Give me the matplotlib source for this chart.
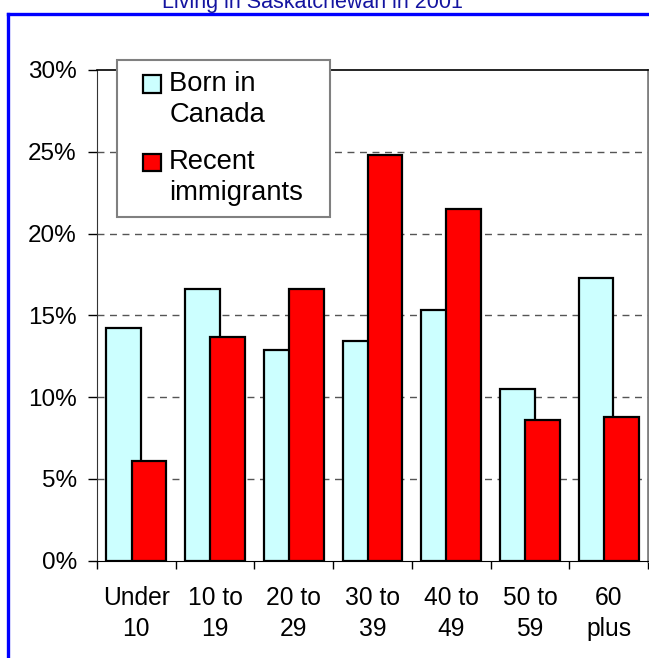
import numpy as np
import matplotlib
matplotlib.use("Agg")
import matplotlib.pyplot as plt
from matplotlib.lines import Line2D
from matplotlib.patches import Rectangle
from matplotlib.container import BarContainer
from matplotlib.legend_handler import HandlerPatch, update_from_first_child

plt.rcParams['font.family'] = ['Liberation Sans', 'DejaVu Sans']

# data
age_groups = ['Under\n10', '10 to\n19', '20 to\n29', '30 to\n39', '40 to\n49', '50 to\n59', '60\nplus']
born_canada = [14.2, 16.6, 12.9, 13.4, 15.3, 10.5, 17.3]
recent_imm = [6.1, 13.7, 16.6, 24.8, 21.5, 8.6, 8.8]
y_ticks = [0, 5, 10, 15, 20, 25, 30]
title = 'Living in Saskatchewan in 2001'

W, H = 649, 658
fig = plt.figure(figsize=(W / 100, H / 100), dpi=100)
ax = fig.add_axes([97 / W, (H - 560.5) / H, 551 / W, 490.5 / H])

x = np.arange(len(age_groups))
bw = 0.44
off = 0.16
ax.bar(x - off, born_canada, bw, color='#CCFFFF', edgecolor='black', linewidth=1.6,
       label='Born in\nCanada', zorder=2)
ax.bar(x + off, recent_imm, bw, color='#FF0000', edgecolor='black', linewidth=1.6,
       label='Recent\nimmigrants', zorder=3)

ax.set_xlim(-0.5, len(age_groups) - 0.5)
ax.set_ylim(0, 30)
ax.set_yticks(y_ticks)
ax.set_yticklabels([f'{v}%' for v in y_ticks], fontsize=17.5)
ax.tick_params(axis='y', direction='out', length=6.5, width=1, pad=8)

ax.set_xticks(x)
ax.set_xticklabels(age_groups, fontsize=17.7, linespacing=1.37)
ax.set_xticks(np.arange(len(age_groups) + 1) - 0.5, minor=True)
ax.tick_params(axis='x', which='major', length=0, pad=18.4)
ax.tick_params(axis='x', which='minor', direction='out', length=6, width=1)

for v in y_ticks[1:-1]:
    ax.axhline(v, color='#555555', linestyle=(0, (5, 4)), linewidth=1, zorder=1)

ax.spines['top'].set_color('black')
ax.spines['top'].set_linewidth(1.2)
ax.spines['right'].set_color('#808080')
ax.spines['right'].set_linewidth(2)
ax.spines['left'].set_color('#333333')
ax.spines['bottom'].set_color('black')


# legend square sits beside the first line of each two-line label
def top_square(legend, orig_handle, xdescent, ydescent, width, height, fontsize):
    s = 0.66 * fontsize
    return Rectangle((width - s - xdescent, 0.58 * fontsize), s, 0.65 * fontsize)


square_handler = HandlerPatch(patch_func=top_square, update_func=update_from_first_child)
leg = ax.legend(loc='upper left', bbox_to_anchor=(116.7 / W, (H - 59.7) / H, 213.3 / W, 0),
                bbox_transform=fig.transFigure, mode='expand', fontsize=19.7, frameon=True,
                fancybox=False, edgecolor='#808080', framealpha=1,
                handlelength=1.22, handleheight=0.7, handletextpad=0.3,
                labelspacing=0.77, borderpad=0.4, borderaxespad=0,
                handler_map={BarContainer: square_handler})
for t in leg.get_texts():
    t.set_linespacing(1.25)
leg.get_frame().set_linewidth(1.5)
leg.set_zorder(5)

# blue frame and clipped title
fig.text(312.5 / W, (H - 8) / H, title, ha='center', va='baseline',
         fontsize=15.5, color='#1414A0')
fig.add_artist(Line2D([8 / W, 8 / W], [0, (H - 13.5) / H], color='#0000FF', linewidth=2.4,
                      transform=fig.transFigure))
fig.add_artist(Line2D([8 / W, 1], [(H - 13.5) / H, (H - 13.5) / H], color='#0000FF',
                      linewidth=2.4, transform=fig.transFigure))

fig.savefig('out.png', dpi=100)
